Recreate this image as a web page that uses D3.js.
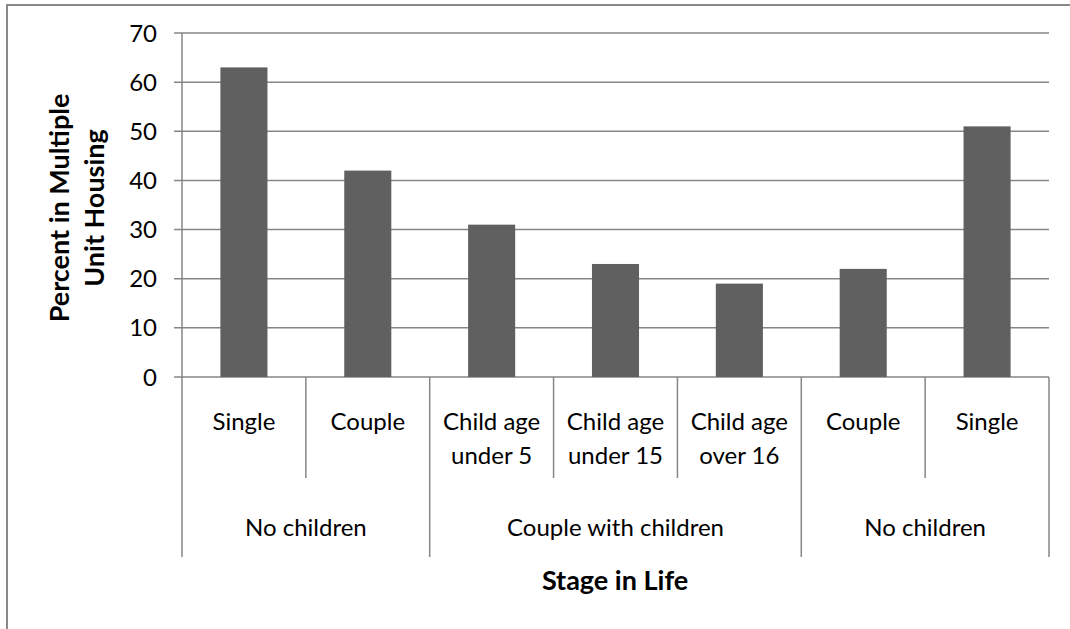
<!DOCTYPE html>
<html lang="en">
<meta charset="utf-8">
<style type="text/css">
  body { margin: 0; background: #fff; }
  svg { display: block; }
  .grid line { stroke: #868686; stroke-width: 1.5px; }
  .lbl { font-family: Lato, "Liberation Sans", sans-serif; fill: #000; }
</style>
<body>
<script src="https://d3js.org/d3.v7.min.js"></script>
<script>
// chart data
var catLabels = [["Single"], ["Couple"], ["Child age", "under 5"], ["Child age", "under 15"],
                 ["Child age", "over 16"], ["Couple"], ["Single"]];
var values = [63, 42, 31, 23, 19, 22, 51];
var groupNames = ["No children", "Couple with children", "No children"];
var groupSizes = [2, 3, 2];
var yTicks = [0, 10, 20, 30, 40, 50, 60, 70];

var width = 1070, height = 629;
var plotLeft = 182, plotRight = 1049, plotTop = 33, plotBottom = 377;

var svg = d3.select("body").append("svg")
    .attr("width", width)
    .attr("height", height);

// outer chart frame
svg.append("rect")
    .attr("x", 7).attr("y", 5)
    .attr("width", 1080).attr("height", 700)
    .attr("fill", "none")
    .attr("stroke", "#898989")
    .attr("stroke-width", 2);

var x = d3.scaleBand()
    .domain(d3.range(values.length))
    .range([plotLeft, plotRight])
    .padding(0);

var y = d3.scaleLinear()
    .domain([0, 70])
    .range([plotBottom, plotTop]);

// gridlines + left ticks
var grid = svg.append("g").attr("class", "grid");
grid.selectAll("line")
    .data(yTicks)
    .enter().append("line")
    .attr("x1", plotLeft - 8)
    .attr("x2", plotRight)
    .attr("y1", function (d) { return y(d); })
    .attr("y2", function (d) { return y(d); });

// y axis labels
svg.append("g").selectAll("text")
    .data(yTicks)
    .enter().append("text")
    .attr("class", "lbl")
    .attr("x", 157)
    .attr("y", function (d) { return y(d); })
    .attr("dy", "0.36em")
    .attr("text-anchor", "end")
    .style("font-size", "24px")
    .text(function (d) { return d; });

// bars
var barW = x.bandwidth() * 0.38;
svg.append("g").selectAll("rect")
    .data(values)
    .enter().append("rect")
    .attr("x", function (d, i) { return x(i) + (x.bandwidth() - barW) / 2; })
    .attr("y", function (d) { return y(d); })
    .attr("width", barW)
    .attr("height", function (d) { return y(0) - y(d); })
    .attr("fill", "#606060");

// category axis lines
var axisG = svg.append("g").attr("class", "grid");
var edges = d3.range(values.length + 1).map(function (i) {
    return i < values.length ? x(i) : x(values.length - 1) + x.bandwidth();
});
var groupEdges = [0];
groupSizes.forEach(function (s) { groupEdges.push(groupEdges[groupEdges.length - 1] + s); });

axisG.selectAll("line")
    .data(edges)
    .enter().append("line")
    .attr("x1", function (d) { return d; })
    .attr("x2", function (d) { return d; })
    .attr("y1", function (d, i) { return i === 0 ? plotTop : plotBottom; })
    .attr("y2", function (d, i) {
        return groupEdges.indexOf(i) >= 0 ? 557 : 478;
    });

// category labels
var catG = svg.append("g").selectAll("text")
    .data(catLabels)
    .enter().append("text")
    .attr("class", "lbl")
    .attr("text-anchor", "middle")
    .style("font-size", "24px")
    .attr("x", function (d, i) { return x(i) + x.bandwidth() / 2; })
    .attr("y", 430);
catG.selectAll("tspan")
    .data(function (d) { return d; })
    .enter().append("tspan")
    .attr("x", function () { return d3.select(this.parentNode).attr("x"); })
    .attr("dy", function (d, i) { return i === 0 ? 0 : 34; })
    .text(function (d) { return d; });

// group labels
svg.append("g").selectAll("text")
    .data(groupNames)
    .enter().append("text")
    .attr("class", "lbl")
    .attr("text-anchor", "middle")
    .style("font-size", "24px")
    .attr("x", function (d, i) { return (edges[groupEdges[i]] + edges[groupEdges[i + 1]]) / 2; })
    .attr("y", 536)
    .text(function (d) { return d; });

// axis titles
svg.append("text")
    .attr("class", "lbl")
    .attr("text-anchor", "middle")
    .style("font-size", "27px")
    .style("font-weight", "bold")
    .attr("x", 615)
    .attr("y", 590)
    .text("Stage in Life");

var yt = svg.append("text")
    .attr("class", "lbl")
    .attr("text-anchor", "middle")
    .style("font-size", "27px")
    .style("font-weight", "bold")
    .attr("transform", "translate(69,208) rotate(-90)");
yt.append("tspan").attr("x", 0).attr("y", 0).text("Percent in Multiple");
yt.append("tspan").attr("x", 0).attr("y", 35).text("Unit Housing");
</script>
</body>
</html>
